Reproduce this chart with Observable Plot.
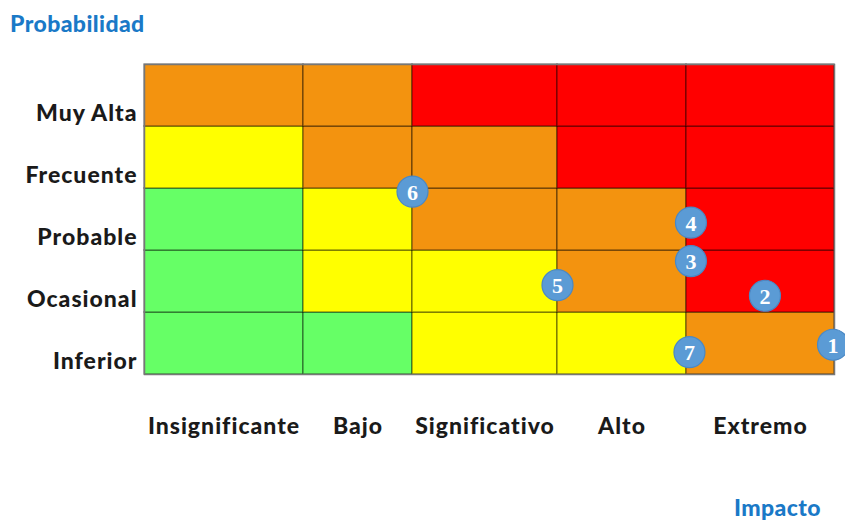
<!DOCTYPE html>
<html>
<head>
<meta charset="utf-8">
<script src="https://cdn.jsdelivr.net/npm/d3@7"></script>
<script src="https://cdn.jsdelivr.net/npm/@observablehq/plot@0.6"></script>
<style>
  html, body { margin: 0; padding: 0; background: #fff; }
  #wrap { position: relative; width: 845px; height: 520px; }
  .lbl { position: absolute; font-family: Lato, sans-serif; font-weight: 900; color: #1a79c7; font-size: 23px; letter-spacing: 0.4px; z-index: 2; }
  svg .tl text { letter-spacing: 1px; }
</style>
</head>
<body>
<div id="wrap">
  <div class="lbl" style="left:10px; top:9px;">Probabilidad</div>
  <div class="lbl" style="right:24px; top:493px;">Impacto</div>
</div>
<script>
// Rows bottom to top (probability), columns left to right (impact)
const rows = ["Inferior", "Ocasional", "Probable", "Frecuente", "Muy Alta"];
const cols = ["Insignificante", "Bajo", "Significativo", "Alto", "Extremo"];
const colWidths = [159, 109, 145, 129, 148];
// Risk level of each cell, rows bottom to top
const levels = [
  ["bajo",  "bajo",  "medio", "medio", "alto"],     // Inferior
  ["bajo",  "medio", "medio", "alto",  "extremo"],  // Ocasional
  ["bajo",  "medio", "alto",  "alto",  "extremo"],  // Probable
  ["medio", "alto",  "alto",  "extremo", "extremo"],// Frecuente
  ["alto",  "alto",  "extremo", "extremo", "extremo"] // Muy Alta
];
const levelColors = { bajo: "#66ff66", medio: "#ffff00", alto: "#f3930f", extremo: "#ff0000" };
// Numbered risks: impact position (column units), probability position (row units)
const riskIds = [1, 2, 3, 4, 5, 6, 7];
const riskImpact = [4.99, 4.53, 4.03, 4.03, 3.0, 2.0, 4.02];
const riskProb = [0.48, 1.27, 1.83, 2.45, 1.44, 2.95, 0.36];

const cum = [0];
colWidths.forEach(w => cum.push(cum[cum.length - 1] + w));
const total = cum[cum.length - 1];
const colToX = c => {
  const i = Math.min(Math.floor(c), colWidths.length - 1);
  return cum[i] + (c - i) * colWidths[i];
};

const cells = [];
rows.forEach((r, ri) => cols.forEach((c, ci) => {
  cells.push({ x1: cum[ci], x2: cum[ci + 1], y1: ri, y2: ri + 1, fill: levelColors[levels[ri][ci]] });
}));
const risks = riskIds.map((id, i) => ({ id, x: colToX(riskImpact[i]), y: riskProb[i] }));
const colCenters = cols.map((c, i) => (cum[i] + cum[i + 1]) / 2);
const rowCenters = rows.map((r, i) => i + 0.5);

const chart = Plot.plot({
  width: 845,
  height: 520,
  marginLeft: 144,
  marginRight: 11,
  marginTop: 64,
  marginBottom: 146,
  x: { domain: [0, total] },
  y: { domain: [0, 5] },
  color: { type: "identity" },
  style: { fontFamily: "Lato, sans-serif", background: "white" },
  marks: [
    Plot.rect(cells, { x1: "x1", x2: "x2", y1: "y1", y2: "y2", fill: "fill", stroke: "#000", strokeOpacity: 0.45, strokeWidth: 1.3 }),
    Plot.frame({ stroke: "#777", strokeWidth: 1.5 }),
    Plot.axisY(rowCenters, {
      className: "tl",
      tickSize: 0, tickPadding: 7, dy: 18,
      tickFormat: d => rows[Math.floor(d)],
      fontSize: 23, fontWeight: 900, fill: "#1a1a1a", label: null
    }),
    Plot.axisX(colCenters, {
      className: "tl",
      tickSize: 0, tickPadding: 43,
      tickFormat: d => cols[colCenters.indexOf(d)],
      fontSize: 23, fontWeight: 900, fill: "#1a1a1a", label: null
    }),
    Plot.dot(risks, { x: "x", y: "y", r: 15.5, fill: "#5b9bd5", stroke: "#4a88c4", strokeWidth: 1.2 }),
    Plot.text(risks, { x: "x", y: "y", text: d => String(d.id), fill: "white", fontSize: 22, fontWeight: 700, fontFamily: "'Liberation Serif', 'DejaVu Serif', serif", dy: 1 })
  ]
});
document.getElementById("wrap").prepend(chart);
chart.style.position = "absolute";
chart.style.left = "0";
chart.style.top = "0";
</script>
</body>
</html>
